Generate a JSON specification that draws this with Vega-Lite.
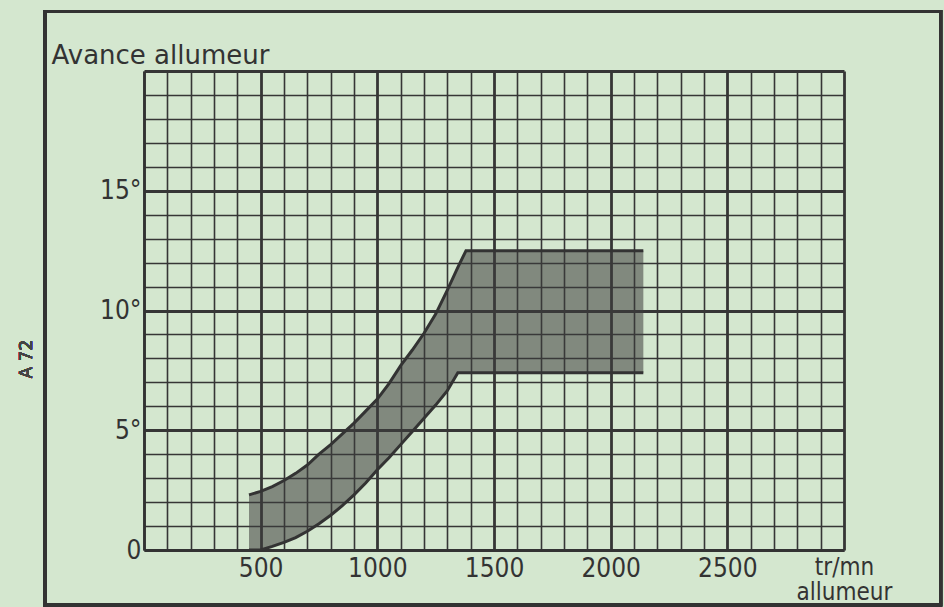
{
  "$schema": "https://vega.github.io/schema/vega-lite/v6.json",
  "width": 700,
  "height": 479,
  "autosize": {"type": "none"},
  "padding": {"left": 144, "top": 71, "right": 100, "bottom": 57},
  "background": "#d4e7cf",
  "config": {
    "view": {"stroke": null},
    "font": "DejaVu Sans",
    "axis": {
      "grid": true, "gridColor": "#363636", "gridOpacity": 1,
      "domain": true, "domainColor": "#333333",
      "ticks": false, "tickSize": 0,
      "labelFont": "DejaVu Sans Condensed, DejaVu Sans",
      "labelColor": "#333333",
      "labelOverlap": false, "labelFlush": false, "labelBound": false
    }
  },
  "data": {"values": [
    {"x": 450, "lo": 0, "hi": 2.3},
    {"x": 500, "lo": 0, "hi": 2.45},
    {"x": 550, "lo": 0.15, "hi": 2.65},
    {"x": 600, "lo": 0.32, "hi": 2.9},
    {"x": 650, "lo": 0.52, "hi": 3.2},
    {"x": 700, "lo": 0.78, "hi": 3.55},
    {"x": 750, "lo": 1.1, "hi": 4.0},
    {"x": 800, "lo": 1.45, "hi": 4.4},
    {"x": 850, "lo": 1.85, "hi": 4.85},
    {"x": 900, "lo": 2.3, "hi": 5.3},
    {"x": 950, "lo": 2.8, "hi": 5.8},
    {"x": 1000, "lo": 3.35, "hi": 6.3},
    {"x": 1050, "lo": 3.85, "hi": 6.95},
    {"x": 1100, "lo": 4.4, "hi": 7.7},
    {"x": 1150, "lo": 4.95, "hi": 8.35},
    {"x": 1200, "lo": 5.5, "hi": 9.05},
    {"x": 1250, "lo": 6.05, "hi": 9.85},
    {"x": 1300, "lo": 6.65, "hi": 10.85},
    {"x": 1345, "lo": 7.4, "hi": 11.8},
    {"x": 1380, "lo": 7.4, "hi": 12.5},
    {"x": 2140, "lo": 7.4, "hi": 12.5}
  ]},
  "layer": [
    {
      "mark": {"type": "area", "fill": "#3c3c3c", "opacity": 0.55, "interpolate": "linear"},
      "encoding": {
        "x": {
          "field": "x", "type": "quantitative",
          "scale": {"domain": [0, 3000], "nice": false, "zero": false},
          "axis": {
            "values": [0,100,200,300,400,500,600,700,800,900,1000,1100,1200,1300,1400,1500,1600,1700,1800,1900,2000,2100,2200,2300,2400,2500,2600,2700,2800,2900,3000],
            "format": "d",
            "labelExpr": "datum.value === 3000 ? ['tr/mn', 'allumeur'] : ((datum.value % 500 === 0 && datum.value > 0) ? datum.label : '')",
            "gridWidth": {"condition": {"test": "datum.value % 500 === 0", "value": 2.8}, "value": 1.6},
            "labelFontSize": {"condition": {"test": "datum.value === 3000", "value": 24}, "value": 26},
            "domainWidth": 2.5,
            "labelPadding": 5, "labelBaseline": "top", "labelLineHeight": 25,
            "title": ""
          }
        },
        "y": {
          "field": "lo", "type": "quantitative",
          "scale": {"domain": [0, 20], "nice": false, "zero": false},
          "axis": {
            "values": [0,1,2,3,4,5,6,7,8,9,10,11,12,13,14,15,16,17,18,19,20],
            "labelExpr": "datum.value === 0 ? '0' : ((datum.value % 5 === 0 && datum.value < 20) ? datum.value + '°' : '')",
            "gridWidth": {"condition": {"test": "datum.value % 5 === 0", "value": 2.8}, "value": 1.6},
            "labelFontSize": 26,
            "domainWidth": 2.2,
            "labelPadding": 3, "labelBaseline": "middle",
            "title": "Avance allumeur",
            "titleFont": "DejaVu Sans", "titleFontSize": 26, "titleFontWeight": "normal",
            "titleColor": "#333333",
            "titleAngle": 0, "titleAlign": "left", "titleBaseline": "alphabetic",
            "titleX": -93, "titleY": -8
          }
        },
        "y2": {"field": "hi"}
      }
    },
    {
      "mark": {"type": "line", "stroke": "#333333", "strokeWidth": 3, "interpolate": "linear"},
      "encoding": {
        "x": {
          "field": "x", "type": "quantitative",
          "scale": {"domain": [0, 3000], "nice": false, "zero": false},
          "axis": {
            "values": [0,100,200,300,400,500,600,700,800,900,1000,1100,1200,1300,1400,1500,1600,1700,1800,1900,2000,2100,2200,2300,2400,2500,2600,2700,2800,2900,3000],
            "format": "d",
            "labelExpr": "datum.value === 3000 ? ['tr/mn', 'allumeur'] : ((datum.value % 500 === 0 && datum.value > 0) ? datum.label : '')",
            "gridWidth": {"condition": {"test": "datum.value % 500 === 0", "value": 2.8}, "value": 1.6},
            "labelFontSize": {"condition": {"test": "datum.value === 3000", "value": 24}, "value": 26},
            "domainWidth": 2.5,
            "labelPadding": 5, "labelBaseline": "top", "labelLineHeight": 25,
            "title": ""
          }
        },
        "y": {
          "field": "hi", "type": "quantitative",
          "scale": {"domain": [0, 20], "nice": false, "zero": false},
          "axis": {
            "values": [0,1,2,3,4,5,6,7,8,9,10,11,12,13,14,15,16,17,18,19,20],
            "labelExpr": "datum.value === 0 ? '0' : ((datum.value % 5 === 0 && datum.value < 20) ? datum.value + '°' : '')",
            "gridWidth": {"condition": {"test": "datum.value % 5 === 0", "value": 2.8}, "value": 1.6},
            "labelFontSize": 26,
            "domainWidth": 2.2,
            "labelPadding": 3, "labelBaseline": "middle",
            "title": "Avance allumeur",
            "titleFont": "DejaVu Sans", "titleFontSize": 26, "titleFontWeight": "normal",
            "titleColor": "#333333",
            "titleAngle": 0, "titleAlign": "left", "titleBaseline": "alphabetic",
            "titleX": -93, "titleY": -8
          }
        }
      }
    },
    {
      "mark": {"type": "line", "stroke": "#333333", "strokeWidth": 3, "interpolate": "linear"},
      "encoding": {
        "x": {
          "field": "x", "type": "quantitative",
          "scale": {"domain": [0, 3000], "nice": false, "zero": false},
          "axis": {
            "values": [0,100,200,300,400,500,600,700,800,900,1000,1100,1200,1300,1400,1500,1600,1700,1800,1900,2000,2100,2200,2300,2400,2500,2600,2700,2800,2900,3000],
            "format": "d",
            "labelExpr": "datum.value === 3000 ? ['tr/mn', 'allumeur'] : ((datum.value % 500 === 0 && datum.value > 0) ? datum.label : '')",
            "gridWidth": {"condition": {"test": "datum.value % 500 === 0", "value": 2.8}, "value": 1.6},
            "labelFontSize": {"condition": {"test": "datum.value === 3000", "value": 24}, "value": 26},
            "domainWidth": 2.5,
            "labelPadding": 5, "labelBaseline": "top", "labelLineHeight": 25,
            "title": ""
          }
        },
        "y": {
          "field": "lo", "type": "quantitative",
          "scale": {"domain": [0, 20], "nice": false, "zero": false},
          "axis": {
            "values": [0,1,2,3,4,5,6,7,8,9,10,11,12,13,14,15,16,17,18,19,20],
            "labelExpr": "datum.value === 0 ? '0' : ((datum.value % 5 === 0 && datum.value < 20) ? datum.value + '°' : '')",
            "gridWidth": {"condition": {"test": "datum.value % 5 === 0", "value": 2.8}, "value": 1.6},
            "labelFontSize": 26,
            "domainWidth": 2.2,
            "labelPadding": 3, "labelBaseline": "middle",
            "title": "Avance allumeur",
            "titleFont": "DejaVu Sans", "titleFontSize": 26, "titleFontWeight": "normal",
            "titleColor": "#333333",
            "titleAngle": 0, "titleAlign": "left", "titleBaseline": "alphabetic",
            "titleX": -93, "titleY": -8
          }
        }
      }
    },
    {
      "mark": {"type": "rect", "fill": null, "fillOpacity": 0, "stroke": "#333333", "strokeWidth": 3, "clip": false},
      "encoding": {
        "x": {
          "datum": -424, "type": "quantitative",
          "scale": {"domain": [0, 3000], "nice": false, "zero": false},
          "axis": {
            "values": [0,100,200,300,400,500,600,700,800,900,1000,1100,1200,1300,1400,1500,1600,1700,1800,1900,2000,2100,2200,2300,2400,2500,2600,2700,2800,2900,3000],
            "format": "d",
            "labelExpr": "datum.value === 3000 ? ['tr/mn', 'allumeur'] : ((datum.value % 500 === 0 && datum.value > 0) ? datum.label : '')",
            "gridWidth": {"condition": {"test": "datum.value % 500 === 0", "value": 2.8}, "value": 1.6},
            "labelFontSize": {"condition": {"test": "datum.value === 3000", "value": 24}, "value": 26},
            "domainWidth": 2.5,
            "labelPadding": 5, "labelBaseline": "top", "labelLineHeight": 25,
            "title": ""
          }
        },
        "x2": {"datum": 3414},
        "y": {
          "datum": 22.48, "type": "quantitative",
          "scale": {"domain": [0, 20], "nice": false, "zero": false},
          "axis": {
            "values": [0,1,2,3,4,5,6,7,8,9,10,11,12,13,14,15,16,17,18,19,20],
            "labelExpr": "datum.value === 0 ? '0' : ((datum.value % 5 === 0 && datum.value < 20) ? datum.value + '°' : '')",
            "gridWidth": {"condition": {"test": "datum.value % 5 === 0", "value": 2.8}, "value": 1.6},
            "labelFontSize": 26,
            "domainWidth": 2.2,
            "labelPadding": 3, "labelBaseline": "middle",
            "title": "Avance allumeur",
            "titleFont": "DejaVu Sans", "titleFontSize": 26, "titleFontWeight": "normal",
            "titleColor": "#333333",
            "titleAngle": 0, "titleAlign": "left", "titleBaseline": "alphabetic",
            "titleX": -93, "titleY": -8
          }
        },
        "y2": {"datum": -2.3}
      }
    },
    {
      "mark": {"type": "text", "text": "A 72", "angle": 270, "font": "DejaVu Sans", "fontSize": 17, "fontWeight": "normal", "color": "#444444", "align": "center", "baseline": "middle", "clip": false},
      "encoding": {
        "x": {
          "datum": -503, "type": "quantitative",
          "scale": {"domain": [0, 3000], "nice": false, "zero": false},
          "axis": {
            "values": [0,100,200,300,400,500,600,700,800,900,1000,1100,1200,1300,1400,1500,1600,1700,1800,1900,2000,2100,2200,2300,2400,2500,2600,2700,2800,2900,3000],
            "format": "d",
            "labelExpr": "datum.value === 3000 ? ['tr/mn', 'allumeur'] : ((datum.value % 500 === 0 && datum.value > 0) ? datum.label : '')",
            "gridWidth": {"condition": {"test": "datum.value % 500 === 0", "value": 2.8}, "value": 1.6},
            "labelFontSize": {"condition": {"test": "datum.value === 3000", "value": 24}, "value": 26},
            "domainWidth": 2.5,
            "labelPadding": 5, "labelBaseline": "top", "labelLineHeight": 25,
            "title": ""
          }
        },
        "y": {
          "datum": 7.97, "type": "quantitative",
          "scale": {"domain": [0, 20], "nice": false, "zero": false},
          "axis": {
            "values": [0,1,2,3,4,5,6,7,8,9,10,11,12,13,14,15,16,17,18,19,20],
            "labelExpr": "datum.value === 0 ? '0' : ((datum.value % 5 === 0 && datum.value < 20) ? datum.value + '°' : '')",
            "gridWidth": {"condition": {"test": "datum.value % 5 === 0", "value": 2.8}, "value": 1.6},
            "labelFontSize": 26,
            "domainWidth": 2.2,
            "labelPadding": 3, "labelBaseline": "middle",
            "title": "Avance allumeur",
            "titleFont": "DejaVu Sans", "titleFontSize": 26, "titleFontWeight": "normal",
            "titleColor": "#333333",
            "titleAngle": 0, "titleAlign": "left", "titleBaseline": "alphabetic",
            "titleX": -93, "titleY": -8
          }
        }
      }
    }
  ]
}
